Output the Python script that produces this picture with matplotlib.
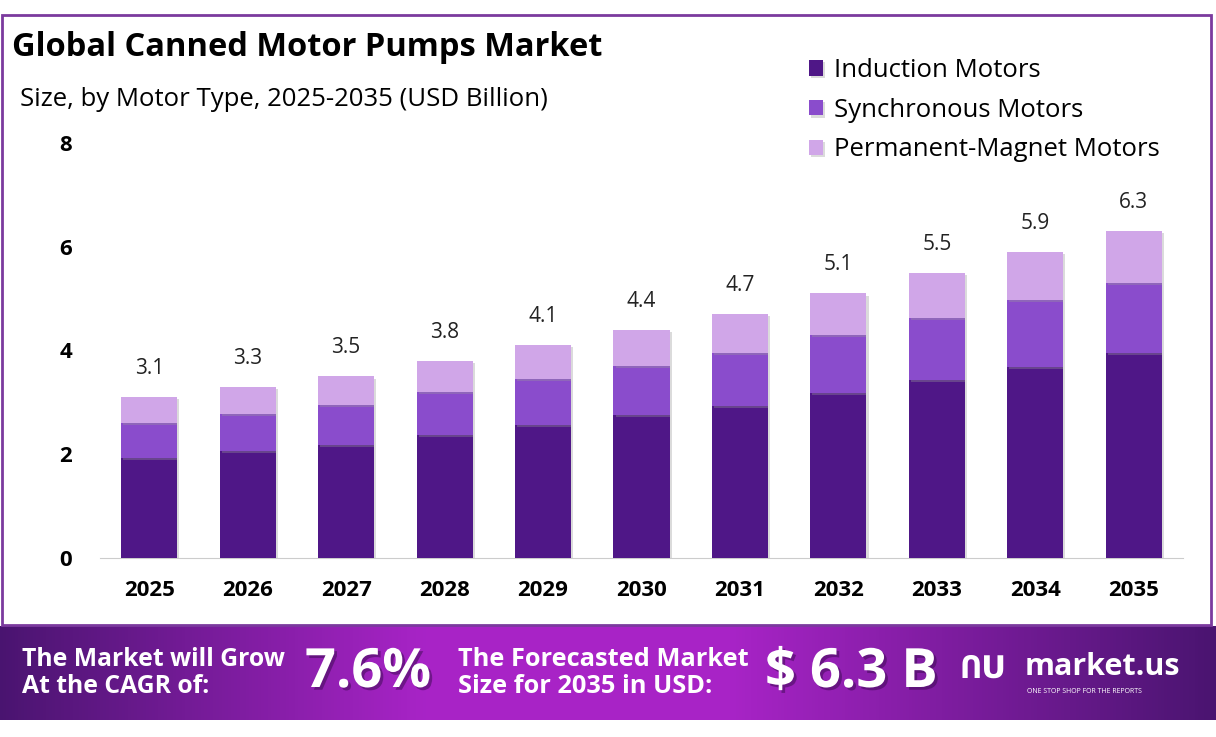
'''
Stacked bar chart of the global canned motor pumps market
by motor type, 2025-2035
'''

###########################################
import numpy as np
import matplotlib.pyplot as plt
import matplotlib.patheffects as pe
from matplotlib.patches import Rectangle


###########################################
# data

years=['2025','2026','2027','2028','2029','2030','2031','2032','2033','2034','2035']
induction=[1.93,2.06,2.18,2.37,2.56,2.76,2.93,3.18,3.43,3.68,3.95]
synchronous=[0.67,0.71,0.77,0.83,0.89,0.94,1.02,1.12,1.19,1.29,1.35]
permMagnet=[0.50,0.53,0.55,0.60,0.65,0.70,0.75,0.80,0.88,0.93,1.00]
totals=[3.1,3.3,3.5,3.8,4.1,4.4,4.7,5.1,5.5,5.9,6.3]
seriesNames=['Induction Motors','Synchronous Motors','Permanent-Magnet Motors']
yTicks=[0,2,4,6,8]
cagr='7.6%'
forecast='$ 6.3 B'

colours=['#4f1787','#8a4ccc','#d0a6e8']
font='Open Sans'


###########################################
# the main block

if __name__ == '__main__':
  W,H=1216,737
  fig=plt.figure(figsize=(W/100,H/100),dpi=100)
  plt.rcParams['font.family']=[font,'DejaVu Sans']

  # purple frame round the chart
  fig.patches.append(Rectangle((2/W,1-625/H),1209/W,(625-15)/H,transform=fig.transFigure,
                               fill=False,edgecolor='#7b3a9e',linewidth=2))

  # the bars
  ax=fig.add_axes([100/W,1-558/H,1083/W,415/H])
  x=np.arange(len(years))
  bottom=np.zeros(len(years))
  shadow=[pe.SimplePatchShadow(offset=(1.5,-1.5),shadow_rgbFace='#999999',alpha=0.35),pe.Normal()]
  for vals,col,name in zip([induction,synchronous,permMagnet],colours,seriesNames):
    bars=ax.bar(x,vals,0.57,bottom=bottom,color=col,label=name,zorder=3)
    for b in bars:
      b.set_path_effects(shadow)
    bottom+=np.array(vals)
  for xi,tot in zip(x,totals):
    ax.text(xi,tot+0.35,'%.1f'%tot,ha='center',va='bottom',fontsize=15,color='#222222')

  ax.set_xlim(-0.5,len(years)-0.5)
  ax.set_ylim(0,8)
  ax.set_xticks(x)
  ax.set_xticklabels(years,fontsize=16,fontweight='bold')
  ax.set_yticks(yTicks)
  ax.set_yticklabels([str(t) for t in yTicks],fontsize=16,fontweight='bold')
  ax.tick_params(axis='both',length=0)
  ax.tick_params(axis='x',pad=16)
  ax.tick_params(axis='y',pad=20)
  for s in ['top','right','left']:
    ax.spines[s].set_visible(False)
  ax.spines['bottom'].set_color('#cccccc')

  leg=fig.legend(loc='upper left',bbox_to_anchor=(786/W,1-35/H),frameon=False,fontsize=18.5,
                 handlelength=0.55,handleheight=0.55,handletextpad=0.43,labelspacing=0.57)

  # titles
  fig.text(12/W,1-48/H,'Global Canned Motor Pumps Market',fontsize=23.5,fontweight='bold',va='center')
  fig.text(20/W,1-100/H,'Size, by Motor Type, 2025-2035 (USD Billion)',fontsize=18.5,va='center')

  # banner with gradient
  bx=fig.add_axes([0,1-720/H,1,(720-626)/H])
  t=np.linspace(0,1,400)
  prof=np.interp(t,[0,0.35,0.6,1],[0,1,1,0])
  dark=np.array([0.29,0.08,0.44])
  bright=np.array([0.66,0.14,0.78])
  grad=dark[None,:]+prof[:,None]*(bright-dark)[None,:]
  bx.imshow(grad[None,:,:],aspect='auto',extent=[0,1,0,1])
  bx.set_xlim(0,1)
  bx.set_ylim(0,1)
  bx.axis('off')
  bigShadow=[pe.SimplePatchShadow(offset=(2,-2),shadow_rgbFace='#3a0a50',alpha=0.5),pe.Normal()]
  bx.text(22/W,0.5,'The Market will Grow\nAt the CAGR of:',color='white',fontsize=17.8,
          fontweight='bold',va='center',linespacing=1.15)
  bx.text(305/W,0.5,cagr,color='white',fontsize=39,fontweight='bold',va='center',path_effects=bigShadow)
  bx.text(458/W,0.5,'The Forecasted Market\nSize for 2035 in USD:',color='white',fontsize=18.3,
          fontweight='bold',va='center',linespacing=1.15)
  bx.text(765/W,0.5,forecast,color='white',fontsize=39,fontweight='bold',va='center',path_effects=bigShadow)
  bx.text(960/W,0.53,'ՈՍ',color='white',fontsize=22,fontweight='bold',va='center')
  bx.text(1025/W,0.56,'market.us',color='white',fontsize=22,fontweight='bold',va='center')
  bx.text(1027/W,0.3,'ONE STOP SHOP FOR THE REPORTS',color='white',fontsize=5,va='center')

  fig.savefig('out.png',dpi=100)
  plt.close()
